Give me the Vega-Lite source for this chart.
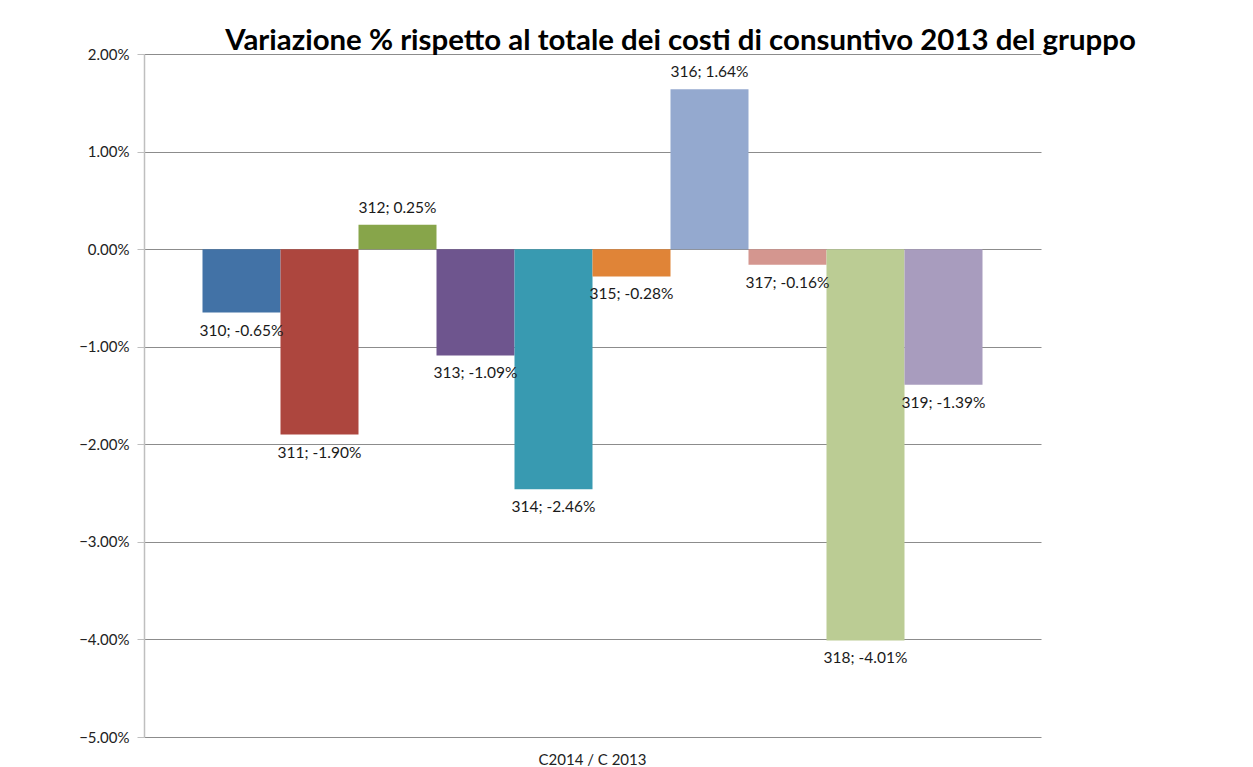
{
  "$schema": "https://vega.github.io/schema/vega-lite/v6.json",
  "width": 897,
  "height": 683,
  "autosize": {"type": "none"},
  "padding": {"left": 144, "top": 54, "right": 212, "bottom": 30},
  "background": "white",
  "title": {
    "text": "Variazione % rispetto al totale dei costi di consuntivo 2013 del gruppo",
    "font": "Lato",
    "fontSize": 29.4,
    "fontWeight": "bold",
    "color": "#000000",
    "anchor": "middle",
    "frame": "group",
    "baseline": "alphabetic",
    "offset": 4,
    "dx": 88,
    "dy": 36
  },
  "config": {
    "view": {"stroke": null},
    "font": "Lato",
    "axis": {"labelFont": "Lato", "labelFontSize": 15, "labelColor": "#222222"}
  },
  "data": {
    "values": [
      {"cat": "C2014 / C 2013", "serie": "310", "val": -0.0065, "label": "310; -0.65%"},
      {"cat": "C2014 / C 2013", "serie": "311", "val": -0.0190, "label": "311; -1.90%"},
      {"cat": "C2014 / C 2013", "serie": "312", "val": 0.0025, "label": "312; 0.25%"},
      {"cat": "C2014 / C 2013", "serie": "313", "val": -0.0109, "label": "313; -1.09%"},
      {"cat": "C2014 / C 2013", "serie": "314", "val": -0.0246, "label": "314; -2.46%"},
      {"cat": "C2014 / C 2013", "serie": "315", "val": -0.0028, "label": "315; -0.28%"},
      {"cat": "C2014 / C 2013", "serie": "316", "val": 0.0164, "label": "316; 1.64%"},
      {"cat": "C2014 / C 2013", "serie": "317", "val": -0.0016, "label": "317; -0.16%"},
      {"cat": "C2014 / C 2013", "serie": "318", "val": -0.0401, "label": "318; -4.01%"},
      {"cat": "C2014 / C 2013", "serie": "319", "val": -0.0139, "label": "319; -1.39%"}
    ]
  },
  "encoding": {
    "x": {
      "field": "cat",
      "type": "nominal",
      "scale": {"paddingInner": 0, "paddingOuter": 0.075},
      "axis": {"title": null, "ticks": false, "domain": false, "labelAngle": 0, "labelPadding": 15, "labelFontSize": 15}
    },
    "xOffset": {"field": "serie", "type": "nominal", "scale": {"paddingInner": 0, "paddingOuter": 0}},
    "y": {
      "field": "val",
      "type": "quantitative",
      "scale": {"domain": [-0.05, 0.02], "nice": false, "zero": false},
      "axis": {
        "title": null,
        "values": [-0.05, -0.04, -0.03, -0.02, -0.01, 0, 0.01, 0.02],
        "format": ".2%",
        "grid": true,
        "gridColor": "#8c8c8c",
        "gridWidth": 1,
        "domainColor": "#bfbfbf",
        "domainWidth": 1.5,
        "tickColor": "#bfbfbf",
        "tickSize": 7,
        "labelPadding": 8,
        "labelFontSize": 15
      }
    }
  },
  "layer": [
    {
      "mark": {"type": "bar"},
      "encoding": {
        "y2": {"datum": 0},
        "color": {
          "field": "serie",
          "type": "nominal",
          "legend": null,
          "scale": {
            "domain": ["310", "311", "312", "313", "314", "315", "316", "317", "318", "319"],
            "range": ["#4272A6", "#AD463E", "#87A54A", "#6E558E", "#389AB1", "#E08437", "#94A9CF", "#D4968F", "#BBCC94", "#A89CBE"]
          }
        }
      }
    },
    {
      "transform": [{"filter": "datum.val < 0"}],
      "mark": {"type": "text", "baseline": "middle", "dy": 18, "fontSize": 15.5, "font": "Lato", "color": "#1a1a1a"},
      "encoding": {"text": {"field": "label"}}
    },
    {
      "transform": [{"filter": "datum.val >= 0"}],
      "mark": {"type": "text", "baseline": "middle", "dy": -17, "fontSize": 15.5, "font": "Lato", "color": "#1a1a1a"},
      "encoding": {"text": {"field": "label"}}
    }
  ]
}
